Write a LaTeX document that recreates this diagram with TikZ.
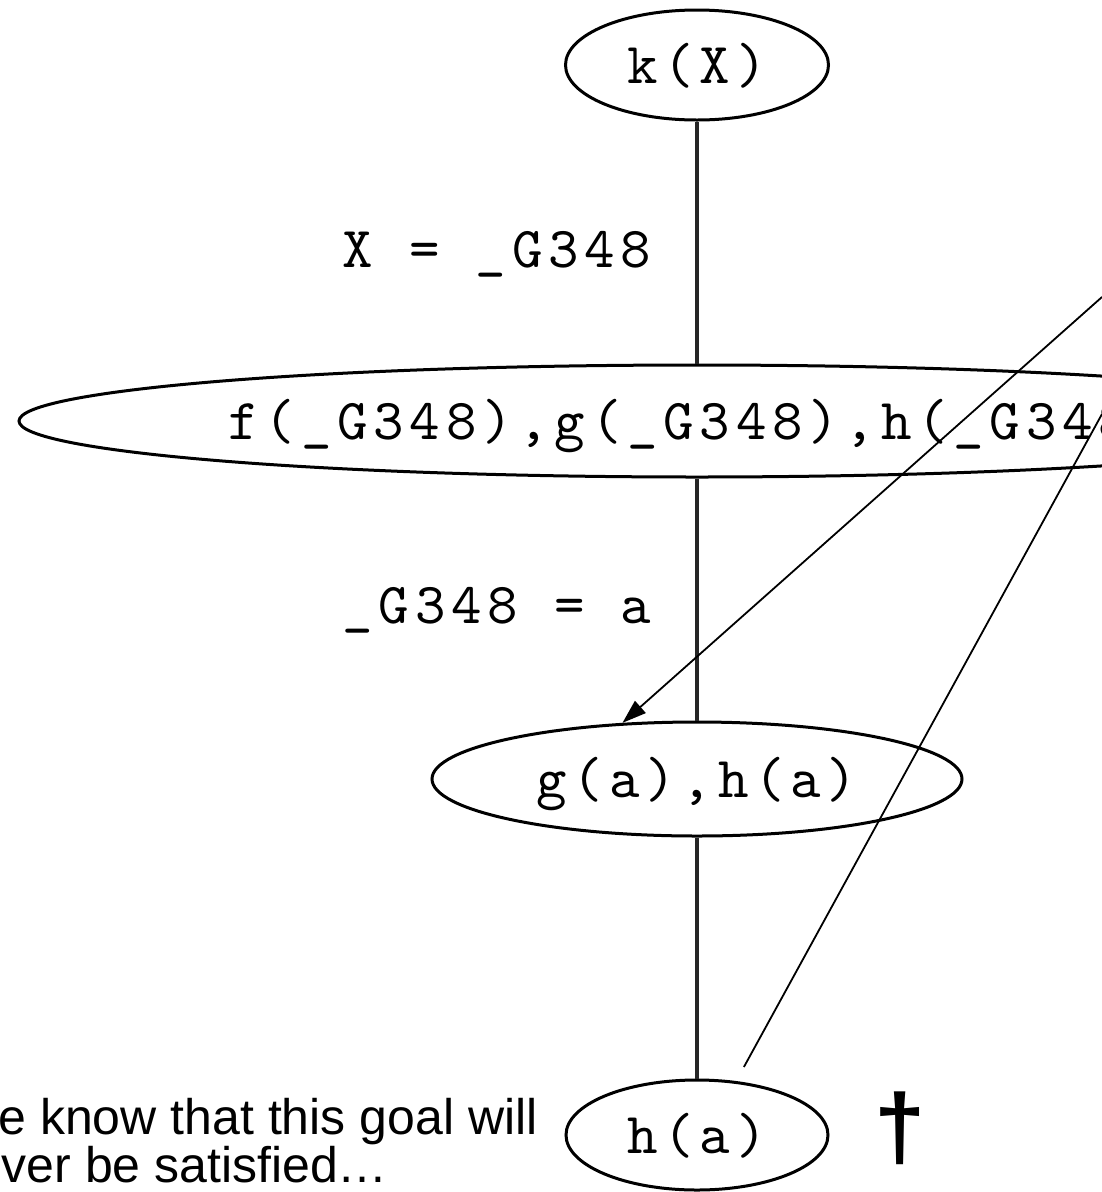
\documentclass[tikz,border=0pt]{standalone}
\usepackage{fontspec}
\setsansfont{Liberation Sans}
\newfontfamily\codefont{lmmono10-regular.otf}[LetterSpace=10]
\usetikzlibrary{shapes.geometric,arrows.meta}
\begin{document}
\begin{tikzpicture}[x=1pt,y=-1pt,
  goal/.style={ellipse, draw=black, line width=3pt, inner sep=0pt,
    font=\codefont\fontsize{58}{60}\selectfont, text height=36pt, text depth=0pt},
  lbl/.style={anchor=base, inner sep=0pt, font=\codefont\fontsize{58}{60}\selectfont},
  treeline/.style={line width=4pt, draw=black!85},
  callout/.style={line width=1.8pt, draw=black},
  note/.style={anchor=base west, inner sep=0pt, font=\sffamily\fontsize{50}{56}\selectfont}]
\useasboundingbox (0,0) rectangle (1102,1192);
\clip (0,0) rectangle (1102,1192);
% goals
\node[goal, minimum width=263pt, minimum height=110pt] (k) at (697,65) {k(X)};
\node[goal, minimum width=1356pt, minimum height=112pt] (f) at (697,421) {f(\_G348),g(\_G348),h(\_G348)};
\node[goal, minimum width=530pt, minimum height=114pt] (gh) at (697,779) {g(a),h(a)};
\node[goal, minimum width=262pt, minimum height=110pt] (h) at (697,1135) {h(a)};
% edge labels
\node[lbl] (l1) at (497,267) {X = \_G348};
\node[lbl] (l2) at (497,623) {\_G348 = a};
% tree edges
\draw[treeline] (k) -- (f);
\draw[treeline] (f) -- (gh);
\draw[treeline] (gh) -- (h);
% note and dagger
\node[note] (n1) at (-48,1134) {We know that this goal will};
\node[note] (n2) at (-54,1182) {never be satisfied…};
\node[inner sep=0pt, font=\sffamily\bfseries\fontsize{92}{92}\selectfont] (dag) at (900,1128) {†};
% callout lines
\coordinate (c1) at (1102,297);
\coordinate (c2) at (1102,414);
\draw[callout, -{Triangle[length=24pt,width=16pt]}] (c1) -- (gh.143.7);
\draw[callout, shorten >=16pt] (c2) -- (h.54.9);
\end{tikzpicture}
\end{document}
